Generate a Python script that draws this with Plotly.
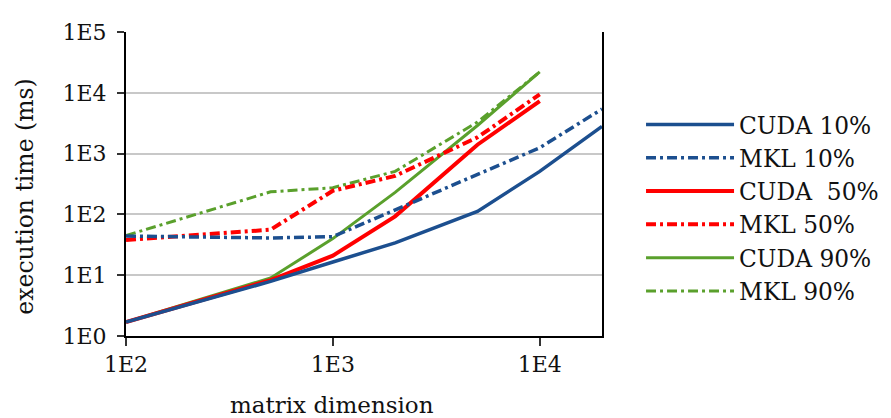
import plotly.graph_objects as go

# matrix dimension
dims = [100, 500, 1000, 2000, 5000, 10000, 20000]

# execution time (ms)
cuda_10 = [1.7, 7.9, 16.5, 34, 112, 510, 2800]
mkl_10 = [44, 41, 43, 118, 440, 1250, 5400]
cuda_50 = [1.7, 8.3, 21, 93, 1400, 7300]
mkl_50 = [38, 56, 245, 430, 1850, 9400]
cuda_90 = [1.7, 9, 40, 230, 2900, 22000]
mkl_90 = [45, 235, 275, 510, 3300, 22000]

y_tickvals = [1, 10, 100, 1000, 10000, 100000]
y_ticktext = ["1E0", "1E1", "1E2", "1E3", "1E4", "1E5"]
x_tickvals = [100, 1000, 10000]
x_ticktext = ["1E2", "1E3", "1E4"]

BLUE = "#1C4F8F"
RED = "#FF0000"
GREEN = "#5AA02C"
DASHDOT = "10px,4px,3px,4px"

series = [
    # (name, y, color, width, dash, legendrank) in drawing order
    ("MKL 90%", mkl_90, GREEN, 3, DASHDOT, 6),
    ("CUDA 90%", cuda_90, GREEN, 3, "solid", 5),
    ("MKL 50%", mkl_50, RED, 4, DASHDOT, 4),
    ("CUDA  50%", cuda_50, RED, 4, "solid", 3),
    ("MKL 10%", mkl_10, BLUE, 3.5, DASHDOT, 2),
    ("CUDA 10%", cuda_10, BLUE, 3.5, "solid", 1),
]

fig = go.Figure()
for name, ys, color, w, dash, rank in series:
    fig.add_trace(go.Scatter(
        x=dims[:len(ys)], y=ys, mode="lines", name=name,
        line=dict(color=color, width=w, dash=dash),
        legendrank=rank,
    ))

FONT = "DejaVu Serif"
# page body has an 8px offset; plot area in the photo spans x 126..602, y 24..336
fig.update_layout(
    width=891, height=418,
    margin=dict(l=118, r=297, t=16, b=90),
    paper_bgcolor="white", plot_bgcolor="white",
    font=dict(family=FONT, size=22, color="#111111"),
    showlegend=True,
    legend=dict(
        x=1.082, xanchor="left", y=0.767, yanchor="top",
        font=dict(family=FONT, size=23.3),
        itemwidth=88, tracegroupgap=0,
        bgcolor="rgba(0,0,0,0)",
    ),
    xaxis=dict(
        type="log", range=[2, 4.301],
        tickvals=x_tickvals, ticktext=x_ticktext,
        showgrid=False, zeroline=False,
        showline=True, linecolor="black", linewidth=2,
        ticks="outside", ticklen=8, tickwidth=2, tickcolor="#333",
    ),
    yaxis=dict(
        type="log", range=[0, 5],
        tickvals=y_tickvals, ticktext=y_ticktext,
        showgrid=True, gridcolor="#C8C8C8", gridwidth=1.5,
        zeroline=False,
        showline=True, linecolor="black", linewidth=2, mirror=True,
        ticks="outside", ticklen=7, tickwidth=2, tickcolor="#333",
        ticklabelstandoff=6,
    ),
    annotations=[
        dict(text="matrix dimension", xref="paper", yref="paper",
             x=(332 - 126) / 476, y=-(407 - 336) / 312,
             xanchor="center", yanchor="middle", showarrow=False,
             font=dict(family=FONT, size=23)),
        dict(text="execution time (ms)", xref="paper", yref="paper",
             x=-(126 - 25) / 476, y=(336 - 193) / 312,
             xanchor="center", yanchor="middle", showarrow=False,
             textangle=-90, font=dict(family=FONT, size=23.5)),
    ],
)

fig.write_html("out.html")
